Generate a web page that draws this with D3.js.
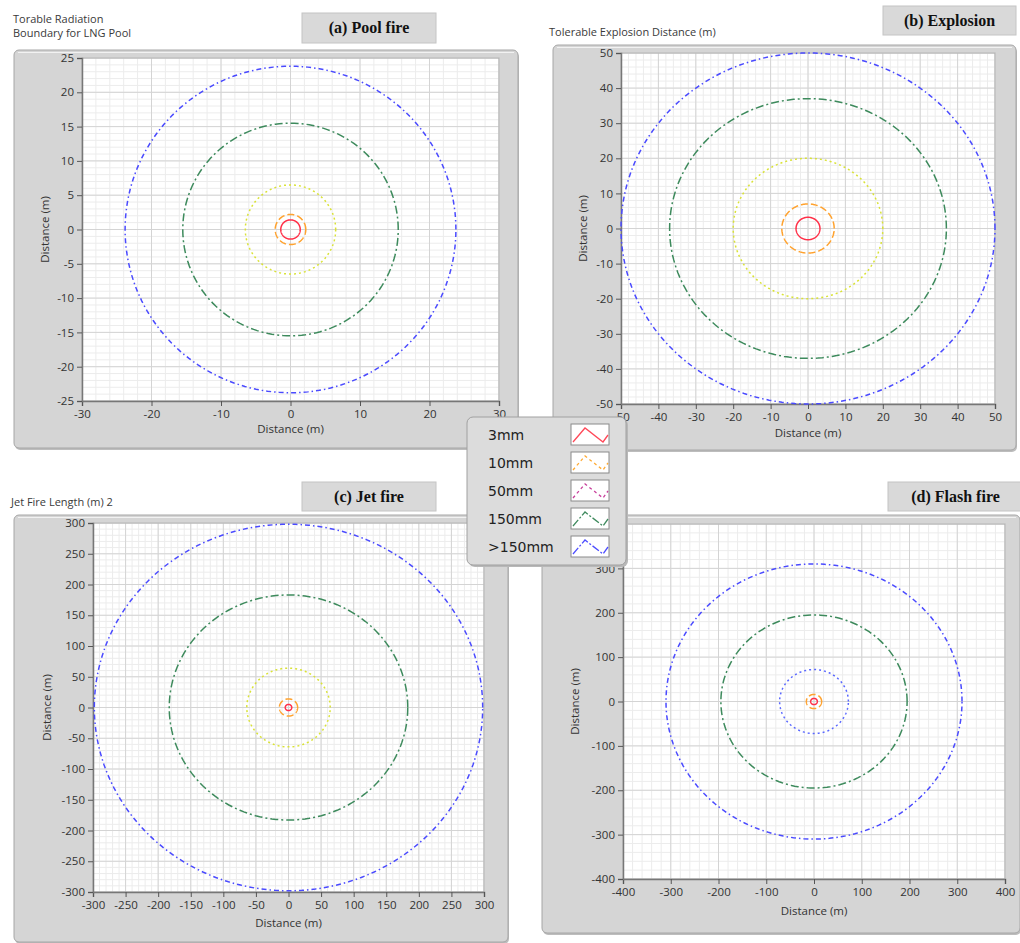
<!DOCTYPE html>
<html>
<head>
<meta charset="utf-8">
<script src="https://cdn.jsdelivr.net/npm/d3@7"></script>
<style>
body{margin:0;background:#fff;}
text{font-family:"Open Sans",sans-serif;fill:#333;}
</style>
</head>
<body>
<svg width="1020" height="943"></svg>
<script>
// hole sizes and boundary radius (m) per scenario
const sizes = ['3mm', '10mm', '50mm', '150mm', '>150mm'];
const poolFire = [1.4, 2.2, 6.5, 15.5, 23.8];
const explosion = [3.2, 7, 20, 37, 50];
const jetFire = [5, 14, 64, 183, 298];
const flashFire = [7, 16, 72, 195, 310];

const poolTicksX = [-30, -20, -10, 0, 10, 20, 30];
const poolTicksY = [-25, -20, -15, -10, -5, 0, 5, 10, 15, 20, 25];
const explTicks = [-50, -40, -30, -20, -10, 0, 10, 20, 30, 40, 50];
const jetTicks = [-300, -250, -200, -150, -100, -50, 0, 50, 100, 150, 200, 250, 300];
const flashTicks = [-400, -300, -200, -100, 0, 100, 200, 300, 400];

// line styles
const legendColor = ['#ff4858', '#ffaa33', '#c8409c', '#3f8a5e', '#4d4dff'];
const plotColor = ['#ff3048', '#ffa22e', '#d9e236', '#3d8a5c', '#4a4aff'];
const dashes = [null, '7,3', '2,3', '8,3,2,3', '5,3,1.5,3'];

const svg = d3.select('svg');

const panels = [
  {title: '(a) Pool fire', label: ['Torable Radiation', 'Boundary for LNG Pool'], labelX: 13, labelY: 23,
   radius: poolFire, tx: poolTicksX, ty: poolTicksY, minorX: 2, minorY: 1,
   frame: [14, 50, 504, 398], plot: [82, 58, 499, 401], box: [302, 13, 134, 30],
   yTitleX: 45, xTitleY: 433, colors: plotColor, dash: dashes},
  {title: '(b) Explosion', label: ['Tolerable Explosion Distance (m)'], labelX: 549, labelY: 36,
   radius: explosion, tx: explTicks, ty: explTicks, minorX: 2, minorY: 2,
   frame: [553, 45, 463, 405], plot: [621, 53, 995, 404], box: [883, 6, 133, 29],
   yTitleX: 583, xTitleY: 437, colors: plotColor, dash: dashes},
  {title: '(c) Jet fire', label: ['Jet Fire Length (m) 2'], labelX: 11, labelY: 506,
   radius: jetFire, tx: jetTicks, ty: jetTicks, minorX: 10, minorY: 10,
   frame: [14, 515, 494, 427], plot: [93, 523, 484, 892], box: [302, 482, 134, 29],
   yTitleX: 47, xTitleY: 927, colors: plotColor, dash: dashes},
  {title: '(d) Flash fire', label: [], labelX: 0, labelY: 0,
   radius: flashFire, tx: flashTicks, ty: flashTicks, minorX: 20, minorY: 20,
   frame: [542, 515, 478, 418], plot: [623, 524, 1005, 879], box: [888, 482, 135, 29],
   yTitleX: 575, xTitleY: 915,
   colors: ['#ff3048', '#ffa22e', '#5a68ff', '#3d8a5c', '#4a4aff'],
   dash: [null, '7,3', '2,3', '8,3,2,3', '5,3,1.5,3']}
];

panels.forEach(p => {
  let g = svg.append('g');
  let [l, t, r, b] = p.plot;

  // title box
  g.append('rect').attr('x', p.box[0]).attr('y', p.box[1]).attr('width', p.box[2]).attr('height', p.box[3])
    .attr('fill', '#d9d9d9').attr('stroke', '#c4c4c4');
  g.append('text').attr('x', p.box[0] + p.box[2] / 2).attr('y', p.box[1] + p.box[3] / 2 + 5)
    .attr('text-anchor', 'middle').style('font-family', '"Liberation Serif",serif')
    .style('font-weight', 'bold').style('font-size', '16px').style('fill', '#111').text(p.title);

  p.label.forEach((s, i) => {
    g.append('text').attr('x', p.labelX).attr('y', p.labelY + i * 14)
      .style('font-size', '11px').style('fill', '#3a3a3a').text(s);
  });

  // frame
  g.append('rect').attr('x', p.frame[0] + 1).attr('y', p.frame[1] + 2).attr('width', p.frame[2]).attr('height', p.frame[3])
    .attr('rx', 5).attr('fill', '#bdbdbd');
  g.append('rect').attr('x', p.frame[0]).attr('y', p.frame[1]).attr('width', p.frame[2]).attr('height', p.frame[3])
    .attr('rx', 5).attr('fill', '#d5d5d5').attr('stroke', '#a6a6a6');
  g.append('line').attr('x1', p.frame[0] + 4).attr('x2', p.frame[0] + p.frame[2] - 4)
    .attr('y1', p.frame[1] + 2.5).attr('y2', p.frame[1] + 2.5).attr('stroke', '#f2f2f2');

  let x = d3.scaleLinear().domain(d3.extent(p.tx)).range([l, r]);
  let y = d3.scaleLinear().domain(d3.extent(p.ty)).range([b, t]);

  g.append('rect').attr('x', l).attr('y', t).attr('width', r - l).attr('height', b - t).attr('fill', '#fff');

  // grid
  let minorX = d3.range(x.domain()[0], x.domain()[1] + 1e-9, p.minorX);
  let minorY = d3.range(y.domain()[0], y.domain()[1] + 1e-9, p.minorY);
  g.append('g').selectAll('line').data(minorX).enter().append('line')
    .attr('x1', d => x(d)).attr('x2', d => x(d)).attr('y1', t).attr('y2', b).attr('stroke', '#ececec');
  g.append('g').selectAll('line').data(minorY).enter().append('line')
    .attr('y1', d => y(d)).attr('y2', d => y(d)).attr('x1', l).attr('x2', r).attr('stroke', '#ececec');
  g.append('g').selectAll('line').data(p.tx).enter().append('line')
    .attr('x1', d => x(d)).attr('x2', d => x(d)).attr('y1', t).attr('y2', b).attr('stroke', '#d4d4d4');
  g.append('g').selectAll('line').data(p.ty).enter().append('line')
    .attr('y1', d => y(d)).attr('y2', d => y(d)).attr('x1', l).attr('x2', r).attr('stroke', '#d4d4d4');

  g.append('rect').attr('x', l).attr('y', t).attr('width', r - l).attr('height', b - t)
    .attr('fill', 'none').attr('stroke', '#b0b0b0');

  // axes (hyphen minus like the original)
  let fmt = d => String(d);
  let xAxis = g.append('g').attr('transform', `translate(0,${b})`)
    .call(d3.axisBottom(x).tickValues(p.tx).tickSize(5).tickPadding(4).tickFormat(fmt));
  let yAxis = g.append('g').attr('transform', `translate(${l},0)`)
    .call(d3.axisLeft(y).tickValues(p.ty).tickSize(5).tickPadding(3).tickFormat(fmt));
  [xAxis, yAxis].forEach(a => {
    a.select('.domain').attr('stroke', '#777').attr('stroke-width', 1.5);
    a.selectAll('.tick line').attr('stroke', '#555');
    a.selectAll('.tick text').style('font-size', '11.5px').style('font-family', '"Open Sans",sans-serif').attr('fill', '#2a2a2a');
  });

  g.append('text').attr('x', (l + r) / 2).attr('y', p.xTitleY).attr('text-anchor', 'middle')
    .style('font-size', '11.5px').text('Distance (m)');
  g.append('text').attr('transform', `translate(${p.yTitleX},${(t + b) / 2}) rotate(-90)`)
    .attr('text-anchor', 'middle').attr('dy', '0.35em').style('font-size', '11.5px').text('Distance (m)');

  // boundary curves
  let angles = d3.range(0, 2 * Math.PI, Math.PI / 90);
  p.radius.forEach((rad, i) => {
    let line = d3.line().x(a => x(rad * Math.cos(a))).y(a => y(rad * Math.sin(a))).curve(d3.curveLinearClosed);
    g.append('path').datum(angles).attr('d', line).attr('fill', 'none')
      .attr('stroke', p.colors[i]).attr('stroke-width', 1.5)
      .attr('stroke-dasharray', p.dash[i]);
  });
});

// legend
let lg = svg.append('g');
lg.append('rect').attr('x', 469).attr('y', 419).attr('width', 159).attr('height', 148).attr('rx', 6).attr('fill', '#b8b8b8');
lg.append('rect').attr('x', 467).attr('y', 417).attr('width', 159).attr('height', 148).attr('rx', 6)
  .attr('fill', '#dcdcdc').attr('stroke', '#a0a0a0');
let zig = d3.line().x(d => d[0]).y(d => d[1]);
sizes.forEach((s, i) => {
  let cy = 435 + i * 28;
  lg.append('text').attr('x', 488).attr('y', cy + 5).style('font-family', '"DejaVu Sans",sans-serif')
    .style('font-size', '14px').style('fill', '#222').text(s);
  lg.append('rect').attr('x', 571).attr('y', cy - 11).attr('width', 38).attr('height', 21)
    .attr('fill', '#fff').attr('stroke', '#8a8a8a');
  lg.append('path').datum([[573, cy + 7], [585, cy - 7], [603, cy + 7], [608, cy]])
    .attr('d', zig).attr('fill', 'none').attr('stroke', legendColor[i]).attr('stroke-width', 1.3)
    .attr('stroke-dasharray', [null, '3,3', '3,3', '8,2,2,2', '8,2,2,2'][i]);
});
</script>
</body>
</html>
